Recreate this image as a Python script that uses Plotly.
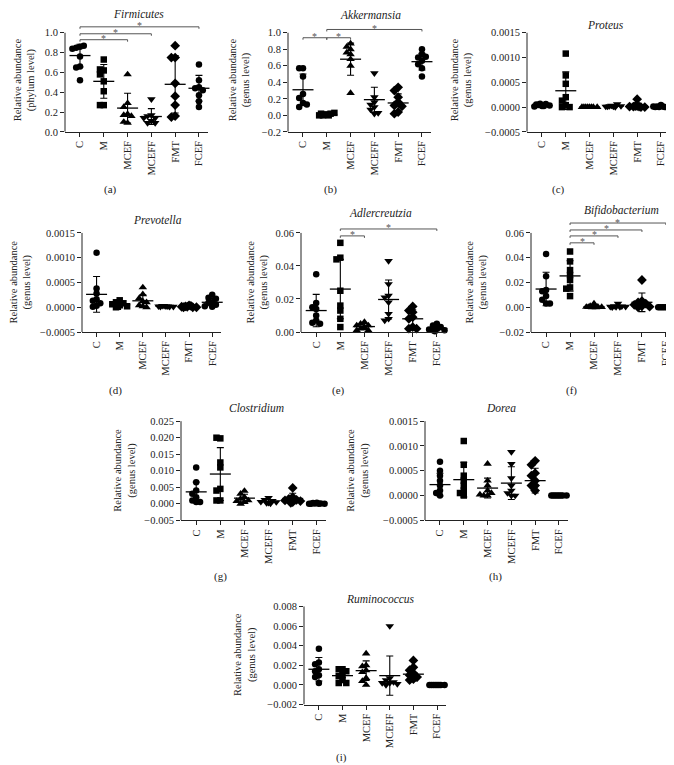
import plotly.graph_objects as go

W, H = 674, 765
GROUPS = ["C", "M", "MCEF", "MCEFF", "FMT", "FCEF"]
SYMBOLS = ["circle", "square", "triangle-up", "triangle-down", "diamond", "circle"]
MSIZE = [6.5, 6.5, 7.5, 7.5, 7.5, 6.5]

# ---------------- data ----------------
firmicutes = [
    [0.86, 0.85, 0.87, 0.84, 0.76, 0.66, 0.65, 0.52],
    [0.73, 0.62, 0.63, 0.58, 0.51, 0.41, 0.27, 0.27],
    [0.58, 0.29, 0.25, 0.18, 0.17, 0.16, 0.09, 0.10],
    [0.33, 0.17, 0.16, 0.14, 0.11, 0.09, 0.09, 0.14],
    [0.87, 0.75, 0.75, 0.49, 0.36, 0.27, 0.16, 0.15],
    [0.68, 0.52, 0.45, 0.44, 0.42, 0.37, 0.31, 0.25],
]
firmicutes_mean = [0.77, 0.51, 0.24, 0.155, 0.48, 0.44]
firmicutes_sd = [0.115, 0.17, 0.15, 0.08, 0.29, 0.13]

akkermansia = [
    [0.57, 0.57, 0.47, 0.26, 0.21, 0.15, 0.10, 0.13],
    [0.01, 0.0, 0.02, 0.0, 0.03, 0.01, 0.0, 0.02],
    [0.87, 0.83, 0.80, 0.76, 0.74, 0.68, 0.60, 0.27],
    [0.51, 0.22, 0.16, 0.13, 0.10, 0.07, 0.02, 0.03],
    [0.34, 0.30, 0.22, 0.16, 0.12, 0.11, 0.04, 0.02],
    [0.80, 0.74, 0.70, 0.71, 0.66, 0.62, 0.57, 0.47],
]
akkermansia_mean = [0.31, 0.01, 0.68, 0.19, 0.15, 0.65]
akkermansia_sd = [0.19, 0.01, 0.195, 0.15, 0.11, 0.10]

proteus = [
    [0.00002, 0.00004, 0.00006, 0.00001, 0.00003, 0.00007, 0.00002, 0.00005],
    [0.00108, 0.00064, 0.00047, 0.00020, 0.00013, 0.00004, 0.0, 0.0],
    [0.0, 0.0, 0.0, 0.0, 0.0, 0.0, 0.0, 0.0],
    [0.00001, 0.00002, 0.00006, 0.00001, 0.00002, 0.00003, 0.0, 0.00001],
    [0.00016, 0.00002, 0.00001, 0.0, 0.00001, 0.0, 0.00002, 0.00001],
    [0.00004, 0.00001, 0.0, 0.00001, 0.00002, 0.0, 0.00001, 0.0],
]
proteus_mean = [0.00003, 0.00033, 0.0, 0.00002, 0.00003, 0.00001]
proteus_sd = [0.00002, 0.00038, 0.0, 0.00002, 0.00005, 0.00001]

prevotella = [
    [0.00110, 0.00038, 0.00028, 0.00016, 0.00013, 0.00008, 0.00003, 0.00001],
    [0.00014, 0.00010, 0.00008, 0.00006, 0.00004, 0.00002, 0.0, 0.00001],
    [0.00040, 0.00026, 0.00018, 0.00012, 0.00010, 0.00004, 0.00002, 0.0],
    [0.00002, 0.00003, 0.00001, 0.00002, 0.00001, 0.00003, 0.00002, 0.00001],
    [0.00004, 0.00002, 0.0, 0.00001, 0.0, 0.00001, 0.00003, 0.0],
    [0.00025, 0.00019, 0.00017, 0.00010, 0.00009, 0.00005, 0.00002, 0.00001],
]
prevotella_mean = [0.00026, 0.00005, 0.00013, 0.00002, 0.00001, 0.0001]
prevotella_sd = [0.00036, 0.00004, 0.00012, 0.00001, 0.00002, 0.00008]

adlercreutzia = [
    [0.035, 0.0175, 0.015, 0.014, 0.010, 0.007, 0.0056, 0.005],
    [0.054, 0.045, 0.044, 0.025, 0.016, 0.013, 0.008, 0.003],
    [0.006, 0.005, 0.004, 0.004, 0.003, 0.002, 0.001, 0.001],
    [0.043, 0.029, 0.022, 0.021, 0.018, 0.011, 0.008, 0.007],
    [0.0155, 0.013, 0.012, 0.009, 0.008, 0.003, 0.002, 0.002],
    [0.005, 0.004, 0.003, 0.002, 0.0015, 0.001, 0.001, 0.0005],
]
adlercreutzia_mean = [0.013, 0.026, 0.0033, 0.0197, 0.008, 0.0022]
adlercreutzia_sd = [0.0098, 0.018, 0.0017, 0.0118, 0.0055, 0.0014]

bifidobacterium = [
    [0.043, 0.025, 0.014, 0.013, 0.009, 0.006, 0.003, 0.003],
    [0.045, 0.037, 0.030, 0.026, 0.022, 0.016, 0.015, 0.009],
    [0.003, 0.001, 0.0005, 0.0003, 0.0002, 0.0, 0.0, 0.0001],
    [0.003, 0.001, 0.0008, 0.0005, 0.0004, 0.0002, 0.0001, 0.0],
    [0.022, 0.005, 0.004, 0.003, 0.002, 0.001, 0.0005, 0.0],
    [0.0, 0.0, 0.0, 0.0, 0.0, 0.0, 0.0, 0.0],
]
bifidobacterium_mean = [0.0147, 0.0253, 0.0005, 0.0008, 0.004, 0.0]
bifidobacterium_sd = [0.0135, 0.0123, 0.0008, 0.0009, 0.0075, 0.0001]

clostridium = [
    [0.011, 0.0065, 0.004, 0.003, 0.002, 0.001, 0.0005, 0.0005],
    [0.0198, 0.0200, 0.0125, 0.011, 0.0045, 0.004, 0.001, 0.001],
    [0.0039, 0.003, 0.002, 0.0015, 0.001, 0.0008, 0.0005, 0.0],
    [0.0018, 0.0012, 0.0009, 0.0006, 0.0005, 0.0003, 0.0002, 0.0001],
    [0.0048, 0.002, 0.0015, 0.0012, 0.001, 0.0008, 0.0005, 0.0003],
    [0.0003, 0.0002, 0.0001, 0.0, 0.0, 0.0001, 0.0, 0.0],
]
clostridium_mean = [0.0036, 0.009, 0.0017, 0.0007, 0.0016, 0.0002]
clostridium_sd = [0.003, 0.008, 0.0012, 0.0005, 0.0016, 0.0002]

dorea = [
    [0.00068, 0.0005, 0.0004, 0.0003, 0.0002, 0.0001, 0.00005, 0.0],
    [0.0011, 0.00062, 0.0004, 0.0003, 0.0002, 0.0001, 0.00005, 0.0],
    [0.00064, 0.0003, 0.0002, 0.0001, 0.0, 0.0, 0.00005, 0.00002],
    [0.00088, 0.00064, 0.00035, 0.0002, 0.0001, 0.00005, 0.0, 0.0],
    [0.0007, 0.00062, 0.00045, 0.0004, 0.0003, 0.0002, 0.0002, 0.0001],
    [0.0, 0.0, 0.0, 0.0, 0.0, 0.0, 0.0, 0.0],
]
dorea_mean = [0.00022, 0.00032, 0.00015, 0.00025, 0.0003, 0.0]
dorea_sd = [0.00023, 0.00035, 0.0002, 0.00033, 0.00025, 0.0]

ruminococcus = [
    [0.0037, 0.0023, 0.0021, 0.0016, 0.0014, 0.0010, 0.0008, 0.0002],
    [0.0016, 0.0016, 0.0014, 0.0010, 0.0009, 0.0005, 0.0002, 0.0002],
    [0.0032, 0.0020, 0.0019, 0.0015, 0.0013, 0.0007, 0.0004, 0.0],
    [0.0060, 0.0007, 0.0005, 0.0003, 0.0002, 0.0002, 0.0001, 0.0],
    [0.0025, 0.0018, 0.0015, 0.0012, 0.0010, 0.0008, 0.0006, 0.0005],
    [0.0, 0.0, 0.0, 0.0, 0.0, 0.0, 0.0, 0.0],
]
ruminococcus_mean = [0.0016, 0.00095, 0.00146, 0.00095, 0.0011, 0.0]
ruminococcus_sd = [0.0012, 0.0006, 0.001, 0.002, 0.0007, 0.0]

# tick labels
ticks_a = [0.0, 0.2, 0.4, 0.6, 0.8, 1.0]
ticklabels_a = ["0.0", "0.2", "0.4", "0.6", "0.8", "1.0"]
ticks_b = [-0.2, 0.0, 0.2, 0.4, 0.6, 0.8, 1.0]
ticklabels_b = ["\u22120.2", "0.0", "0.2", "0.4", "0.6", "0.8", "1.0"]
ticks_small = [-0.0005, 0.0, 0.0005, 0.0010, 0.0015]
ticklabels_small = ["\u22120.0005", "0.0000", "0.0005", "0.0010", "0.0015"]
ticks_e = [0.0, 0.02, 0.04, 0.06]
ticklabels_e = ["0.00", "0.02", "0.04", "0.06"]
ticks_f = [-0.02, 0.0, 0.02, 0.04, 0.06]
ticklabels_f = ["\u22120.02", "0.00", "0.02", "0.04", "0.06"]
ticks_g = [-0.005, 0.0, 0.005, 0.010, 0.015, 0.020, 0.025]
ticklabels_g = ["\u22120.005", "0.000", "0.005", "0.010", "0.015", "0.020", "0.025"]
ticks_i = [-0.002, 0.0, 0.002, 0.004, 0.006, 0.008]
ticklabels_i = ["\u22120.002", "0.000", "0.002", "0.004", "0.006", "0.008"]

# significance brackets: (from group, to group, y)
brackets_a = [(0, 5, 1.06), (0, 3, 0.99), (0, 2, 0.93)]
brackets_b = [(0, 1, 0.94), (1, 2, 0.94), (1, 5, 1.04)]
brackets_e = [(1, 2, 0.0582), (1, 5, 0.0624)]
brackets_f = [(1, 5, 0.068), (1, 4, 0.0624), (1, 3, 0.0576), (1, 2, 0.052)]

# ---------------- layout of panels (pixels) ----------------
panels = [
    ("Firmicutes", firmicutes, firmicutes_mean, firmicutes_sd, ticks_a, ticklabels_a, brackets_a, "phylum", "(a)",
     57, 143, 24, 124, 8, 0.0, 1.0, (130, 5), (17, 72), (102, 182)),
    ("Akkermansia", akkermansia, akkermansia_mean, akkermansia_sd, ticks_b, ticklabels_b, brackets_b, "genus", "(b)",
     280, 143, 24, 124, 10, -0.2, 1.0, (362, 6), (232, 72), (322, 182)),
    ("Proteus", proteus, proteus_mean, proteus_sd, ticks_small, ticklabels_small, [], "genus", "(c)",
     519, 143, 24, 124, 20, -0.0005, 0.0015, (597, 16), (454, 72), (550, 182)),
    ("Prevotella", prevotella, prevotella_mean, prevotella_sd, ticks_small, ticklabels_small, [], "genus", "(d)",
     74, 139, 226, 326, 222, -0.0005, 0.0015, (149, 213), (13, 276), (107, 385)),
    ("Adlercreutzia", adlercreutzia, adlercreutzia_mean, adlercreutzia_sd, ticks_e, ticklabels_e, brackets_e, "genus", "(e)",
     293, 145, 226, 326, 214, 0.0, 0.06, (372, 206), (250, 276), (330, 385)),
    ("Bifidobacterium", bifidobacterium, bifidobacterium_mean, bifidobacterium_sd, ticks_f, ticklabels_f, brackets_f, "genus", "(f)",
     523, 144, 226, 326, 210, -0.02, 0.06, (613, 203), (469, 276), (563, 385)),
    ("Clostridium", clostridium, clostridium_mean, clostridium_sd, ticks_g, ticklabels_g, [], "genus", "(g)",
     173, 145, 416, 516, 412, -0.005, 0.025, (248, 403), (117, 466), (213, 573)),
    ("Dorea", dorea, dorea_mean, dorea_sd, ticks_small, ticklabels_small, [], "genus", "(h)",
     417, 143, 416, 516, 412, -0.0005, 0.0015, (493, 403), (350, 466), (487, 573)),
    ("Ruminococcus", ruminococcus, ruminococcus_mean, ruminococcus_sd, ticks_i, ticklabels_i, [], "genus", "(i)",
     296, 142, 603, 702, 598, -0.002, 0.008, (372, 595), (237, 652), (333, 755)),
]

FONT = "Liberation Serif"
INK = "#222222"
GREY = "#555555"
XR = [-0.63, 5.38]


def swarm(values, px_per_unit):
    cands = [0, -0.16, 0.16, -0.32, 0.32, -0.08, 0.08, -0.24, 0.24]
    placed = []
    offs = []
    for v in values:
        y = v * px_per_unit
        used = [o for (yy, o) in placed if abs(yy - y) < 4.5]
        off = 0
        for c in cands:
            if all(abs(c - u) > 0.07 for u in used):
                off = c
                break
        placed.append((y, off))
        offs.append(off)
    return offs


def px(x):
    return x / W


def py(y):
    return 1 - y / H


fig = go.Figure()
annotations = []
shapes = []
layout = {}

for k, p in enumerate(panels):
    (name, data, means, sds, tv, tt, brks, level, letter,
     left, width, top, bottom, ptop, ymin, ymax, tpos, ytpos, lpos) = p
    n = k + 1
    xa = "x" if n == 1 else f"x{n}"
    ya = "y" if n == 1 else f"y{n}"
    ppu = (bottom - top) / (ymax - ymin)
    yupper = ymin + (bottom - ptop) / ppu

    for g, vals in enumerate(data):
        offs = swarm(vals, ppu)
        fig.add_trace(go.Scatter(
            x=[g + o for o in offs], y=vals, mode="markers", xaxis=xa, yaxis=ya,
            marker=dict(symbol=SYMBOLS[g], size=MSIZE[g], color="black", line=dict(width=0)),
            showlegend=False, hoverinfo="skip", cliponaxis=False))
    fig.add_trace(go.Scatter(
        x=list(range(len(GROUPS))), y=means, mode="markers", xaxis=xa, yaxis=ya,
        marker=dict(symbol="line-ew", size=15, color="black", line=dict(width=1.3, color="black")),
        error_y=dict(type="data", array=sds, visible=True, width=3.5, thickness=1.1, color="black"),
        showlegend=False, hoverinfo="skip", cliponaxis=False))

    xkey = "xaxis" if n == 1 else f"xaxis{n}"
    ykey = "yaxis" if n == 1 else f"yaxis{n}"
    layout[xkey] = dict(
        domain=[px(left), px(left + width)], anchor=ya, range=XR,
        tickvals=list(range(len(GROUPS))), ticktext=GROUPS, tickangle=-90,
        showline=True, linecolor=INK, linewidth=1, ticks="outside", ticklen=4,
        tickcolor=INK, showgrid=False, zeroline=False, fixedrange=True,
        tickfont=dict(family=FONT, size=10.5, color=INK))
    layout[ykey] = dict(
        domain=[py(bottom), py(ptop)], anchor=xa, range=[ymin, yupper],
        tickvals=tv, ticktext=tt, showline=False, ticks="outside", ticklen=4,
        tickcolor=INK, showgrid=False, zeroline=False, fixedrange=True,
        tickfont=dict(family=FONT, size=10.5, color=INK))

    shapes.append(dict(type="line", xref=f"{xa} domain", yref=ya, x0=0, x1=0,
                       y0=ymin, y1=ymax, line=dict(color=INK, width=1)))

    tick_h = 2.0 / ppu
    for (a, b, yv) in brks:
        shapes.append(dict(type="line", xref=xa, yref=ya, x0=a, x1=b, y0=yv, y1=yv,
                           line=dict(color=GREY, width=1)))
        for xe in (a, b):
            shapes.append(dict(type="line", xref=xa, yref=ya, x0=xe, x1=xe,
                               y0=yv - tick_h, y1=yv, line=dict(color=GREY, width=1)))
        annotations.append(dict(x=(a + b) / 2, y=yv, xref=xa, yref=ya, text="*",
                                showarrow=False, yanchor="middle", yshift=1,
                                font=dict(family=FONT, size=10, color=GREY)))

    annotations.append(dict(x=px(tpos[0]), y=py(tpos[1]), xref="paper", yref="paper",
                            text=f"<i>{name}</i>", showarrow=False, xanchor="center",
                            yanchor="middle", font=dict(family=FONT, size=11.5, color=INK)))
    annotations.append(dict(x=px(ytpos[0]), y=py(ytpos[1]), xref="paper", yref="paper",
                            text=f"Relative abundance<br>({level} level)", textangle=-90,
                            showarrow=False, xanchor="center", yanchor="middle",
                            font=dict(family=FONT, size=10.5, color=INK)))
    annotations.append(dict(x=px(lpos[0]), y=py(lpos[1]), xref="paper", yref="paper",
                            text=letter, showarrow=False, xanchor="center", yanchor="middle",
                            font=dict(family=FONT, size=11, color=INK)))

fig.update_layout(
    width=W, height=H, margin=dict(l=0, r=0, t=0, b=0),
    paper_bgcolor="white", plot_bgcolor="white",
    annotations=annotations, shapes=shapes, showlegend=False, **layout)

fig.write_html("out.html")
